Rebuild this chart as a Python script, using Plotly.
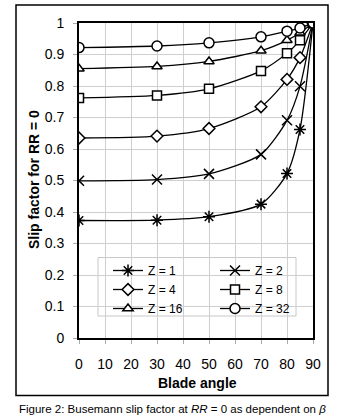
import plotly.graph_objects as go

blade_angle = [0, 30, 50, 70, 80, 85, 90]
z_labels = ["Z = 1", "Z = 2", "Z = 4", "Z = 8", "Z = 16", "Z = 32"]
z1 = [0.373, 0.374, 0.385, 0.425, 0.522, 0.662, 1.0]
z2 = [0.499, 0.503, 0.521, 0.583, 0.691, 0.799, 1.0]
z4 = [0.635, 0.641, 0.665, 0.734, 0.821, 0.890, 1.0]
z8 = [0.762, 0.770, 0.791, 0.848, 0.904, 0.945, 1.0]
z16 = [0.855, 0.862, 0.878, 0.912, 0.945, 0.969, 1.0]
z32 = [0.922, 0.927, 0.937, 0.956, 0.974, 0.984, 1.0]
series = [z1, z2, z4, z8, z16, z32]
x_ticks = [0, 10, 20, 30, 40, 50, 60, 70, 80, 90]
y_ticks = [0, 0.1, 0.2, 0.3, 0.4, 0.5, 0.6, 0.7, 0.8, 0.9, 1]
y_tick_text = ["0", "0.1", "0.2", "0.3", "0.4", "0.5", "0.6", "0.7", "0.8", "0.9", "1"]

symbols = ["asterisk-open", "x-thin-open", "diamond", "square", "triangle-up", "circle"]
fills = ["black", "black", "white", "white", "white", "white"]
sizes = [10, 10, 9, 9, 9, 10]
legends = ["legend", "legend2", "legend", "legend2", "legend", "legend2"]

FONT = "Liberation Sans, Arial, sans-serif"

fig = go.Figure()
for name, vals, sym, fc, sz, lg in zip(z_labels, series, symbols, fills, sizes, legends):
    fig.add_trace(go.Scatter(
        x=blade_angle, y=vals, name=name, mode="lines+markers",
        line=dict(color="black", width=1.3, shape="spline", smoothing=0.7),
        marker=dict(symbol=sym, size=sz, color=fc,
                    line=dict(color="black", width=1.5)),
        legend=lg,
    ))

L, R, T, B = 79, 24, 23, 81
W, H = 337, 419
pw = W - L - R
ph = H - T - B

def px(xp):
    return (xp - L) / pw

def py(yp):
    return (H - B - yp) / ph

fig.update_layout(
    width=W, height=H,
    margin=dict(l=L, r=R, t=T, b=B),
    paper_bgcolor="white", plot_bgcolor="white",
    font=dict(family=FONT, size=14, color="black"),
    xaxis=dict(range=[0, 90], tickvals=x_ticks, showgrid=True,
               gridcolor="#cfcfcf", gridwidth=1, showline=True, mirror=True,
               linecolor="black", linewidth=2, ticks="outside", ticklen=4,
               tickcolor="#aaaaaa", zeroline=False, ticklabelstandoff=8,
               tickfont=dict(size=14)),
    yaxis=dict(range=[0, 1], tickvals=y_ticks, ticktext=y_tick_text, showgrid=True,
               gridcolor="#cfcfcf", gridwidth=1, showline=True, mirror=True,
               linecolor="black", linewidth=2, ticks="outside", ticklen=4,
               tickcolor="#aaaaaa", zeroline=False, ticklabelstandoff=6,
               tickfont=dict(size=14)),
    showlegend=True,
    legend=dict(x=px(108), y=py(256), xanchor="left", yanchor="top",
                bgcolor="rgba(0,0,0,0)", borderwidth=0,
                font=dict(size=12, family=FONT), tracegroupgap=0),
    legend2=dict(x=px(215), y=py(256), xanchor="left", yanchor="top",
                 bgcolor="rgba(0,0,0,0)", borderwidth=0,
                 font=dict(size=12, family=FONT), tracegroupgap=0),
)

# legend box
fig.add_shape(type="rect", xref="paper", yref="paper",
              x0=px(98), x1=px(296), y0=py(316), y1=py(257.5),
              fillcolor="white", line=dict(color="#c8c8c8", width=1), layer="between")
# outer frame
fig.add_shape(type="rect", xref="paper", yref="paper",
              x0=px(16), x1=px(328), y0=py(395.5), y1=py(5),
              fillcolor="rgba(0,0,0,0)", line=dict(color="black", width=1.5), layer="above")

# axis titles
fig.add_annotation(text="<b>Blade angle</b>", xref="paper", yref="paper",
                   x=px(197), y=py(383), xanchor="center", yanchor="middle",
                   showarrow=False, font=dict(size=14, family=FONT))
fig.add_annotation(text="<b>Slip factor for RR = 0</b>", xref="paper", yref="paper",
                   x=px(34), y=py(180), xanchor="center", yanchor="middle",
                   textangle=-90, showarrow=False, font=dict(size=14, family=FONT))
# caption
fig.add_annotation(text="Figure 2: Busemann slip factor at <i>RR</i> = 0 as dependent on <i>β</i>",
                   xref="paper", yref="paper", x=px(17), y=py(409),
                   xanchor="left", yanchor="middle", showarrow=False,
                   font=dict(size=11.5, family=FONT))

fig.write_html("out.html", config={"displayModeBar": False},
               post_script="document.body.style.margin='0px';document.body.style.overflow='hidden';")
